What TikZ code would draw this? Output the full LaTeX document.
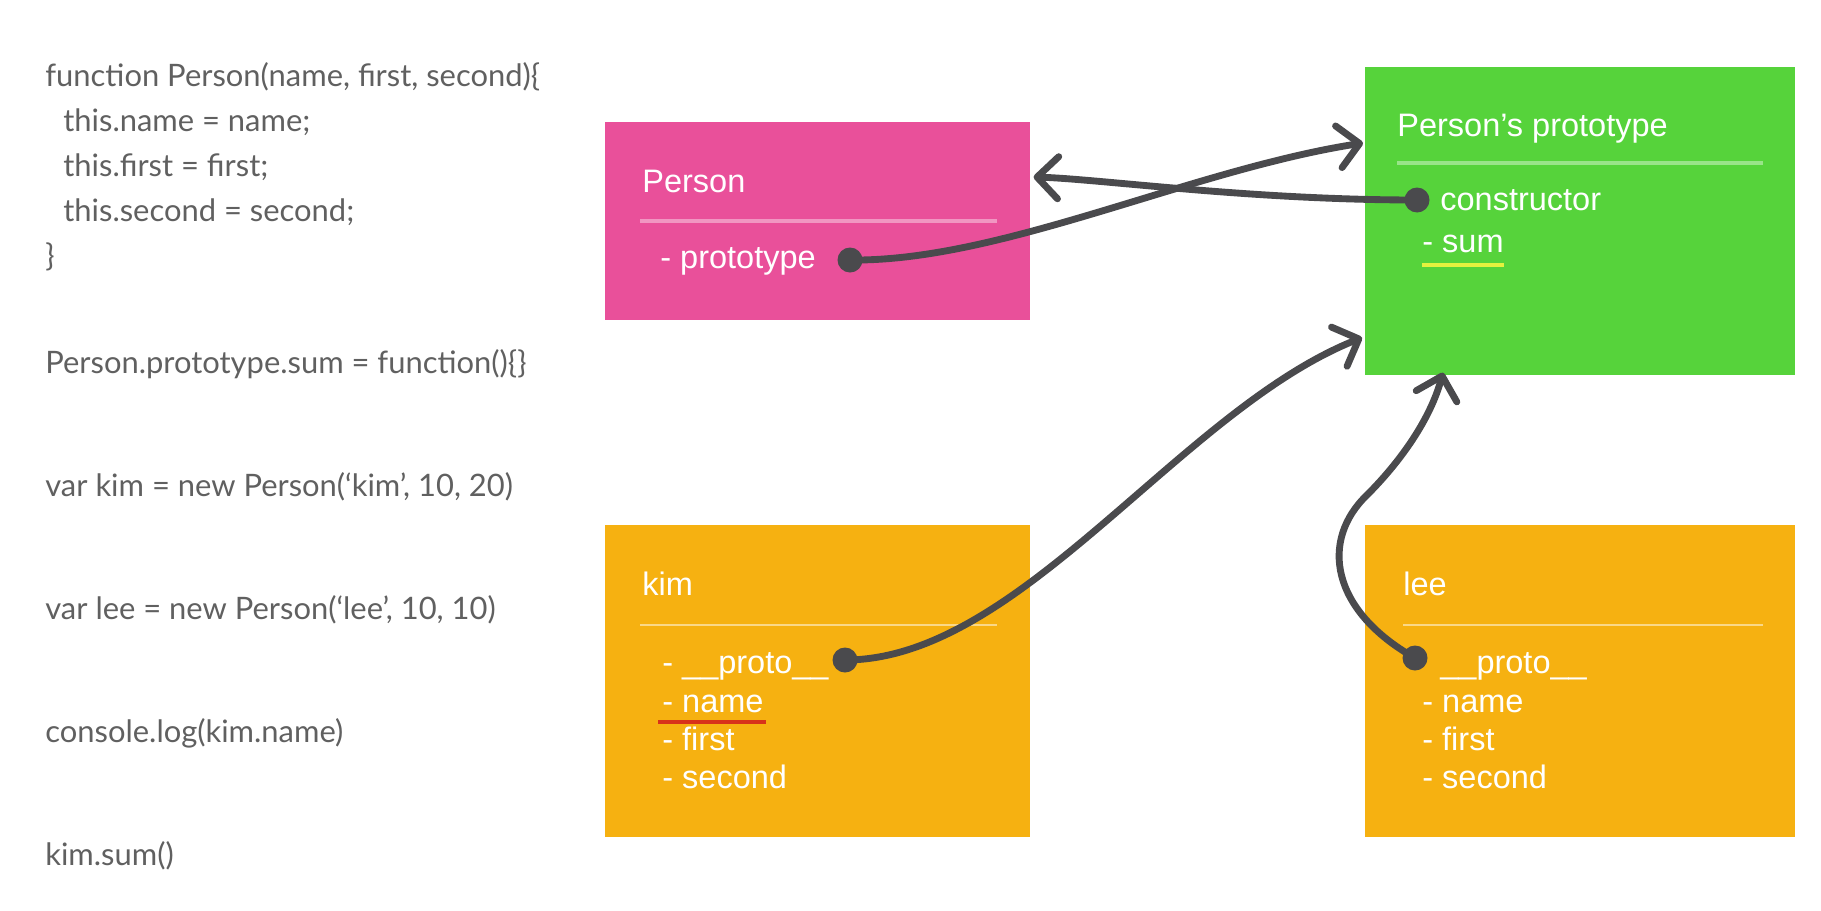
\documentclass[tikz,border=0pt]{standalone}
\usepackage{fontspec}
\setmainfont{Liberation Sans}
\newfontfamily\codefont{Lato}
\usetikzlibrary{arrows.meta}
\usetikzlibrary{calc}

\definecolor{personpink}{HTML}{E9509A}
\definecolor{protogreen}{HTML}{56D33B}
\definecolor{objamber}{HTML}{F6B111}
\definecolor{linkgray}{HTML}{4A4A4D}
\definecolor{codegray}{HTML}{606060}
\definecolor{sumyellow}{HTML}{E4F23E}
\definecolor{namered}{HTML}{D8321A}

\begin{document}
\begin{tikzpicture}[x=0.02cm, y=-0.02cm,
    box/.style={anchor=north west, inner sep=0, minimum width=8.5cm},
    head/.style={anchor=base west, inner sep=0, text=white, font=\fontsize{18.5}{22}\selectfont},
    code/.style={anchor=base west, inner sep=0, text=codegray, font=\codefont\fontsize{17.6}{20}\selectfont},
    sep/.style={draw=white, line width=2.3pt, opacity=0.4},
    dot/.style={circle, fill=linkgray, inner sep=0, minimum size=0.5cm},
    link/.style={draw=linkgray, line width=3.9pt, line cap=round,
        -{Straight Barb[length=12pt, width=24pt, line cap=round, line join=round]}}]
        \useasboundingbox (0,0) rectangle (1821,910);

        \node[code] (c1) at (45,86) {function Person(name, first, second)\{};
        \node[code] (c2) at (63,131) {this.name = name;};
        \node[code] (c3) at (63,176) {this.first = first;};
        \node[code] (c4) at (63,221) {this.second = second;};
        \node[code] (c5) at (45,266) {\}};
        \node[code] (c6) at (45,373) {Person.prototype.sum = function()\{\}};
        \node[code] (c7) at (45,496) {var kim = new Person(‘kim’, 10, 20)};
        \node[code] (c8) at (45,619) {var lee = new Person(‘lee’, 10, 10)};
        \node[code] (c9) at (45,742) {console.log(kim.name)};
        \node[code] (c10) at (45,865) {kim.sum()};

        \node[box, fill=personpink, minimum height=3.96cm] (personbox) at (605,122) {};
        \node[box, fill=protogreen, minimum width=8.6cm, minimum height=6.16cm] (protobox) at (1365,67) {};
        \node[box, fill=objamber, minimum height=6.24cm] (kimbox) at (605,525) {};
        \node[box, fill=objamber, minimum width=8.6cm, minimum height=6.24cm] (leebox) at (1365,525) {};

        \draw[sep] (640,221) -- (997,221);
        \draw[sep] (1397,163) -- (1763,163);
        \draw[sep, line width=1.5pt, opacity=0.5] (640,625) -- (997,625);
        \draw[sep, line width=1.5pt, opacity=0.5] (1403,625) -- (1763,625);

        \node[head] (personhead) at (642,192) {Person};
        \node[head] (pproto) at (660,268) {- prototype};

        \node[head] (protohead) at (1397,136) {Person’s prototype};
        \node[head] (pconst) at (1440,210) {constructor};
        \node[head] (psum) at (1422,252) {- sum};

        \node[head] (kimhead) at (642,595) {kim};
        \node[head] (kproto) at (662,673) {- \_\_proto\_\_};
        \node[head] (kname) at (662,712) {- name};
        \node[head] (kfirst) at (662,750) {- first};
        \node[head] (ksecond) at (662,788) {- second};

        \node[head] (leehead) at (1403,595) {lee};
        \node[head] (lproto) at (1440,673) {\_\_proto\_\_};
        \node[head] (lname) at (1422,712) {- name};
        \node[head] (lfirst) at (1422,750) {- first};
        \node[head] (lsecond) at (1422,788) {- second};

        \draw[sumyellow, line width=2.6pt] ($(psum.base west)+(0,13)$) -- ($(psum.base east)+(0,13)$);
        \draw[namered, line width=2.6pt] ($(kname.base west)+(-4,10)$) -- ($(kname.base east)+(2,10)$);

        \node[dot] (pdot) at (850,260) {};
        \node[dot] (cdot) at (1417,200) {};
        \node[dot] (kdot) at (845,660) {};
        \node[dot] (ldot) at (1415,658) {};

        \coordinate (protoin) at ($(protobox.north west)+(-2,76)$);
        \coordinate (personin) at ($(personbox.north east)+(3,55)$);
        \coordinate (protoleft) at ($(protobox.south west)+(-3,-38)$);
        \coordinate (protobottom) at ($(protobox.south west)+(78,-3)$);

        \draw[link] (pdot.center) .. controls (1000,262) and (1190,170) .. (protoin);
        \draw[link] (cdot.center) .. controls (1250,200) and (1100,179) .. (personin);
        \draw[link] (kdot.center) .. controls (1020,660) and (1180,410) .. (protoleft);
        \draw[link] (ldot.center) .. controls (1330,610) and (1320,540) .. (1367,495)
            .. controls (1400,462) and (1430,420) .. (protobottom);
    \end{tikzpicture}
\end{document}
